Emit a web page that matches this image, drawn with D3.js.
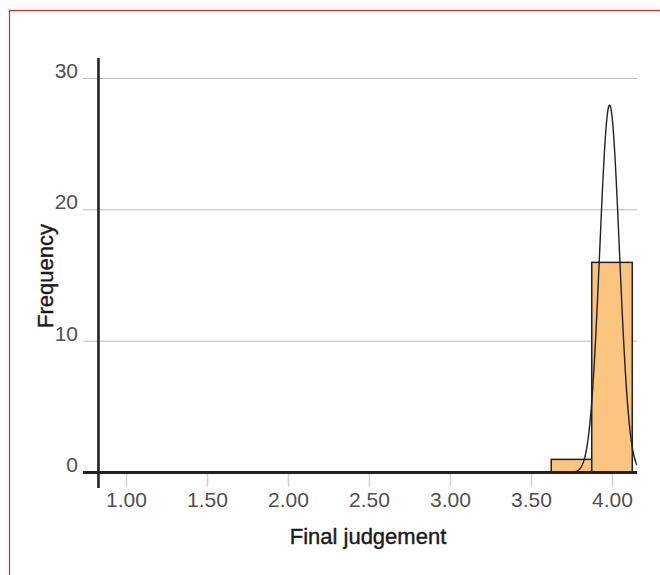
<!DOCTYPE html>
<html>
<head>
<meta charset="utf-8">
<script src="https://cdn.jsdelivr.net/npm/d3@7"></script>
<style>
  body { margin: 0; background: #fff; }
  svg { display: block; font-family: "Liberation Sans", Arial, Helvetica, sans-serif; }
</style>
</head>
<body>
<div id="HIST_CHART"></div>
<script>
// histogram bins (lower edge, upper edge) and counts
const binStarts = [3.625, 3.875];
const binEnds = [3.875, 4.125];
const counts = [1, 16];

// fitted normal curve
const fitMean = 3.985;
const fitSd = 0.0606;

const xTicks = [1.0, 1.5, 2.0, 2.5, 3.0, 3.5, 4.0];
const yTicks = [0, 10, 20, 30];
const xTitle = 'Final judgement';
const yTitle = 'Frequency';

const width = 660;
const height = 575;

const svg = d3.select('#HIST_CHART')
  .append('svg')
  .attr('width', width)
  .attr('height', height);

// red frame
svg.append('rect')
  .attr('x', 9.5)
  .attr('y', 10.5)
  .attr('width', 700)
  .attr('height', 600)
  .attr('fill', 'none')
  .attr('stroke', '#e2232b')
  .attr('stroke-width', 1.2);

const x = d3.scaleLinear()
  .domain([1, 4])
  .range([126, 612]);

const y = d3.scaleLinear()
  .domain([0, 30])
  .range([472.5, 78.5]);

const lineLeft = 83;
const lineRight = 637;
const yAxisX = x(0.83);

// gridlines
svg.append('g')
  .selectAll('line')
  .data(yTicks.filter(d => d > 0))
  .join('line')
  .attr('x1', lineLeft)
  .attr('x2', lineRight)
  .attr('y1', d => y(d))
  .attr('y2', d => y(d))
  .attr('stroke', '#bdbdbd')
  .attr('stroke-width', 1);

// y tick labels
svg.append('g')
  .attr('transform', `translate(${lineLeft},0)`)
  .call(d3.axisLeft(y).tickValues(yTicks).tickSize(0).tickPadding(5))
  .call(g => g.select('.domain').remove())
  .call(g => g.selectAll('text')
    .attr('dy', '-0.05em')
    .attr('font-size', 21)
    .attr('font-family', '"Liberation Sans", Arial, sans-serif')
    .attr('fill', '#505050'));

// x ticks
svg.append('g')
  .attr('transform', `translate(0,${y(0)})`)
  .call(d3.axisBottom(x).tickValues(xTicks).tickFormat(d3.format('.2f')).tickSize(14).tickPadding(6))
  .call(g => g.select('.domain').remove())
  .call(g => g.selectAll('line').attr('stroke', '#cfcfcf').attr('stroke-width', 1.5))
  .call(g => g.selectAll('text')
    .attr('font-size', 21)
    .attr('font-family', '"Liberation Sans", Arial, sans-serif')
    .attr('fill', '#505050'));

// bars
svg.append('g')
  .selectAll('rect')
  .data(counts)
  .join('rect')
  .attr('x', (d, i) => x(binStarts[i]))
  .attr('width', (d, i) => x(binEnds[i]) - x(binStarts[i]))
  .attr('y', d => y(d))
  .attr('height', d => y(0) - y(d))
  .attr('fill', '#fbc47f')
  .attr('stroke', '#222')
  .attr('stroke-width', 1.5);

// normal curve scaled to counts
const total = d3.sum(counts);
const binWidth = binEnds[0] - binStarts[0];
const density = v => total * binWidth / (fitSd * Math.sqrt(2 * Math.PI)) *
  Math.exp(-0.5 * ((v - fitMean) / fitSd) ** 2);
const xs = d3.range(3.6, x.invert(lineRight), 0.002).concat([x.invert(lineRight)]);

const line = d3.line()
  .x(v => x(v))
  .y(v => y(density(v)));

svg.append('path')
  .datum(xs)
  .attr('fill', 'none')
  .attr('stroke', '#222')
  .attr('stroke-width', 1.4)
  .attr('d', line);

// axis lines
svg.append('line')
  .attr('x1', lineLeft)
  .attr('x2', lineRight)
  .attr('y1', y(0))
  .attr('y2', y(0))
  .attr('stroke', '#222')
  .attr('stroke-width', 3);

svg.append('line')
  .attr('x1', yAxisX)
  .attr('x2', yAxisX)
  .attr('y1', 58)
  .attr('y2', 488)
  .attr('stroke', '#222')
  .attr('stroke-width', 2.6);

// titles
svg.append('text')
  .attr('x', 368)
  .attr('y', 544)
  .attr('text-anchor', 'middle')
  .attr('font-size', 22)
  .attr('fill', '#1a1a1a')
  .attr('stroke', '#1a1a1a')
  .attr('stroke-width', 0.4)
  .text(xTitle);

svg.append('text')
  .attr('transform', 'translate(53,276) rotate(-90)')
  .attr('text-anchor', 'middle')
  .attr('font-size', 22)
  .attr('fill', '#1a1a1a')
  .attr('stroke', '#1a1a1a')
  .attr('stroke-width', 0.4)
  .text(yTitle);
</script>
</body>
</html>
